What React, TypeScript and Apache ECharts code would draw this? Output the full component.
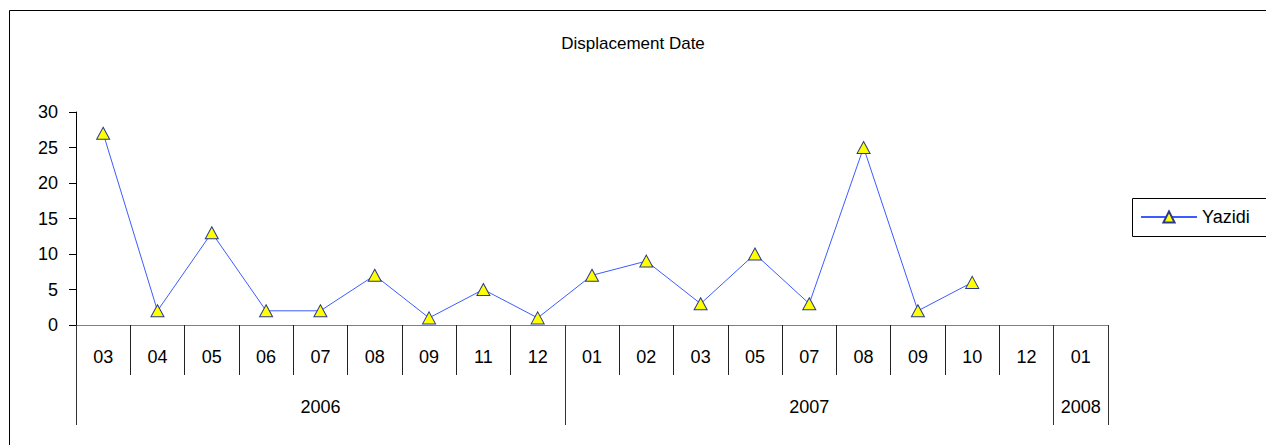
import React, { useEffect, useRef } from "react";
import * as echarts from "echarts";

const categories = [
  "2006-03", "2006-04", "2006-05", "2006-06", "2006-07", "2006-08", "2006-09", "2006-11", "2006-12",
  "2007-01", "2007-02", "2007-03", "2007-05", "2007-07", "2007-08", "2007-09", "2007-10", "2007-12",
  "2008-01",
];
const yazidi: (number | null)[] = [27, 2, 13, 2, 2, 7, 1, 5, 1, 7, 9, 3, 10, 3, 25, 2, 6, null, null];
const years = ["2006", "2007", "2008"];
const yearSpans = [9, 9, 1];
const yTicks = [0, 5, 10, 15, 20, 25, 30];

const FONT = "'Liberation Sans', Arial, sans-serif";

export default function App() {
  const ref = useRef<HTMLDivElement>(null);
  useEffect(() => {
    if (!ref.current) return;
    const chart = echarts.init(ref.current, undefined, { renderer: "svg" });

    const bounds: number[] = [0];
    const mids: number[] = [];
    const midLabel: Record<string, string> = {};
    let acc = 0;
    yearSpans.forEach((s, i) => {
      const m = acc + s / 2;
      mids.push(m);
      midLabel[String(m)] = years[i];
      acc += s;
      bounds.push(acc);
    });

    chart.setOption({
      animation: false,
      backgroundColor: "#ffffff",
      textStyle: { fontFamily: FONT },
      title: {
        text: "Displacement Date",
        left: "center",
        top: 30,
        textStyle: { fontFamily: FONT, fontSize: 17, fontWeight: "normal", color: "#000" },
      },
      legend: {
        data: ["Yazidi"],
        left: 1132,
        top: 198,
        orient: "vertical",
        padding: [10, 8, 10, 8],
        itemWidth: 56,
        itemHeight: 14,
        textStyle: { fontFamily: FONT, fontSize: 18, color: "#000" },
      },
      grid: { left: 76, top: 112, width: 1032, height: 213, containLabel: false },
      xAxis: [
        {
          type: "category",
          data: categories,
          boundaryGap: true,
          axisLine: { show: true, lineStyle: { color: "#808080", width: 1 } },
          axisTick: { show: true, interval: 0, length: 50, lineStyle: { color: "#222", width: 1 } },
          axisLabel: {
            interval: 0,
            margin: 23,
            fontFamily: FONT,
            fontSize: 18,
            color: "#000",
            formatter: (v: string) => v.slice(5),
          },
          splitLine: { show: false },
        },
        {
          type: "value",
          position: "bottom",
          min: 0,
          max: categories.length,
          axisLine: { show: false },
          axisTick: { show: true, customValues: bounds, length: 100, lineStyle: { color: "#333", width: 1 } },
          axisLabel: {
            customValues: mids,
            margin: 73,
            fontFamily: FONT,
            fontSize: 18,
            color: "#000",
            formatter: (v: number) => midLabel[String(v)] ?? "",
          },
          splitLine: { show: false },
        },
      ],
      yAxis: {
        type: "value",
        min: yTicks[0],
        max: yTicks[yTicks.length - 1],
        interval: 5,
        axisLine: { show: true, lineStyle: { color: "#000", width: 1 } },
        axisTick: { show: true, length: 7, lineStyle: { color: "#000" } },
        axisLabel: { margin: 18, fontFamily: FONT, fontSize: 18, color: "#000" },
        splitLine: { show: false },
      },
      graphic: [
        {
          type: "polyline",
          shape: { points: [[1400, 10.5], [9.5, 10.5], [9.5, 500]] },
          style: { fill: "none", stroke: "#000", lineWidth: 1 },
          silent: true,
          z: -10,
        },
        {
          type: "polyline",
          shape: { points: [[1400, 198.5], [1132.5, 198.5], [1132.5, 236.5], [1400, 236.5]] },
          style: { fill: "none", stroke: "#000", lineWidth: 1 },
          silent: true,
          z: -5,
        },
      ],
      series: [
        {
          name: "Yazidi",
          type: "line",
          xAxisIndex: 0,
          data: yazidi,
          connectNulls: false,
          symbol: "triangle",
          symbolSize: [13, 12],
          lineStyle: { color: "#3d5cff", width: 1 },
          itemStyle: { color: "#ffff00", borderColor: "#2b3a8c", borderWidth: 1 },
          emphasis: { disabled: true },
        },
      ],
    });
    return () => chart.dispose();
  }, []);
  return (
    <div
      ref={ref}
      style={{ position: "absolute", left: 0, top: 0, width: 1266, height: 445 }}
    />
  );
}
